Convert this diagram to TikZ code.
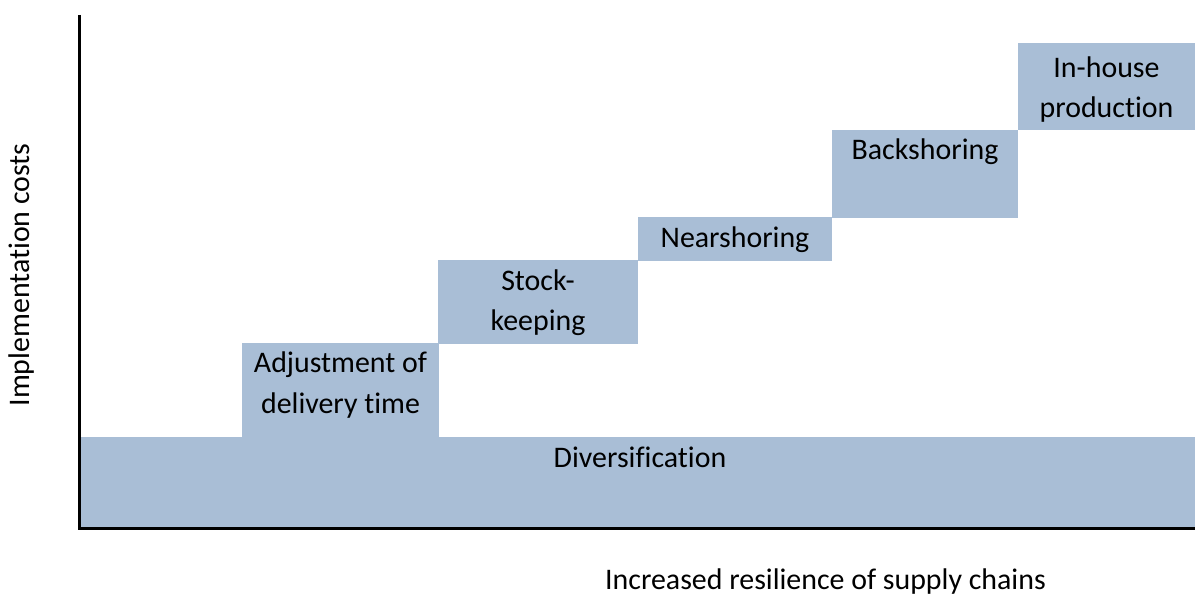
\documentclass[tikz,border=0pt]{standalone}
\usepackage{fontspec}
\setmainfont{Carlito}[Ligatures={NoCommon,NoContextual}]
\definecolor{boxblue}{RGB}{169,190,214}
\begin{document}
\begin{tikzpicture}[x=1bp,y=-1bp,
  stepbox/.style={fill=boxblue, draw=none, inner sep=0pt, outer sep=0pt},
  lbl/.style={font=\fontsize{30}{41}\selectfont, align=center, inner sep=0pt, anchor=base},
  axis/.style={line width=2.6bp, black}]
\useasboundingbox (0,0) rectangle (1195,597);
% boxes
\fill[stepbox] (80,437) rectangle (1195,528);
\fill[stepbox] (242,343) rectangle (439,437.5);
\fill[stepbox] (438,260) rectangle (638,343.5);
\fill[stepbox] (638,217) rectangle (832,261);
\fill[stepbox] (832,130) rectangle (1018,218);
\fill[stepbox] (1018,43) rectangle (1195,130.5);
% labels (anchor base = baseline of last line)
\node[lbl] (div) at (640,467) {Diversification};
\node[lbl] (adj) at (340.5,413) {Adjustment of\\delivery time};
\node[lbl] (stock) at (538,331) {Stock-\\keeping};
\node[lbl] (near) at (735,248) {Nearshoring};
\node[lbl] (back) at (925,160) {Backshoring};
\node[lbl] (inh) at (1106.5,118) {In-house\\production};
% axes
\coordinate (o) at (79.5,528.5);
\coordinate (ytop) at (79.5,15);
\coordinate (xend) at (1195,528.5);
\draw[axis] (ytop) -- (o) -- (xend);
% axis titles
\node[lbl] (xl) at (825.5,589) {Increased resilience of supply chains};
\node[lbl, anchor=center, rotate=90] (yl) at (22,275) {Implementation costs};
\end{tikzpicture}
\end{document}
